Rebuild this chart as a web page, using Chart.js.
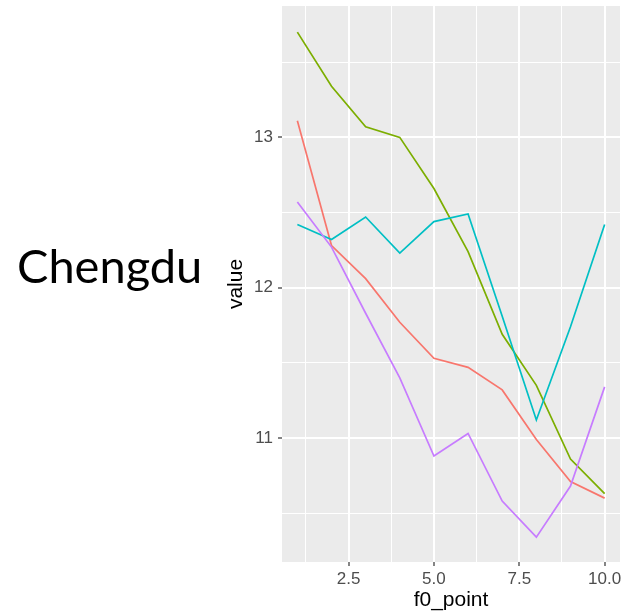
<!DOCTYPE html>
<html>
<head>
<meta charset="utf-8">
<script src="https://cdn.jsdelivr.net/npm/chart.js@4/dist/chart.umd.min.js"></script>
<style>
  html, body { margin: 0; padding: 0; background: #fff; }
  #wrap { width: 623px; height: 616px; }
</style>
</head>
<body>
<div id="wrap"><canvas id="chart" width="623" height="616"></canvas></div>
<script>
// f0 points on the x axis
const f0Points = [1, 2, 3, 4, 5, 6, 7, 8, 9, 10];

// one series per colour
const redValues    = [13.11, 12.28, 12.06, 11.77, 11.53, 11.47, 11.32, 10.99, 10.71, 10.60];
const greenValues  = [13.70, 13.34, 13.07, 13.00, 12.66, 12.24, 11.69, 11.35, 10.86, 10.63];
const cyanValues   = [12.42, 12.32, 12.47, 12.23, 12.44, 12.49, 11.81, 11.12, 11.74, 12.42];
const purpleValues = [12.57, 12.27, 11.83, 11.40, 10.88, 11.03, 10.58, 10.34, 10.68, 11.34];

// ticks (major ones get labels, minor ones only a thin grid line)
const xTicks = [1.25, 2.5, 3.75, 5, 6.25, 7.5, 8.75, 10];
const xTickLabels = ['', '2.5', '', '5.0', '', '7.5', '', '10.0'];
const yTicks = [10.5, 11, 11.5, 12, 12.5, 13, 13.5];
const yTickLabels = ['', '11', '', '12', '', '13', ''];

const series = [
  { values: redValues,    color: '#F8766D', order: 3 },
  { values: greenValues,  color: '#7CAE00', order: 2 },
  { values: cyanValues,   color: '#00BFC4', order: 1 },
  { values: purpleValues, color: '#C77CFF', order: 0 }
];

// fondo gris del panel y el rótulo de la ciudad
const panelPlugin = {
  id: 'panel',
  beforeDraw(chart) {
    const { ctx, chartArea: a } = chart;
    ctx.save();
    ctx.fillStyle = '#EBEBEB';
    ctx.fillRect(a.left, a.top, a.right - a.left, a.bottom - a.top);
    ctx.restore();
  },
  afterDraw(chart) {
    const ctx = chart.ctx;
    ctx.save();
    ctx.fillStyle = '#000';
    ctx.font = '47px Lato';
    ctx.textBaseline = 'alphabetic';
    ctx.textAlign = 'left';
    ctx.fillText('Chengdu', 17, 283);
    ctx.restore();
  }
};

const isMajor = (labels, ticks) => (c) => {
  const i = ticks.indexOf(c.tick ? c.tick.value : NaN);
  return i >= 0 && labels[i] !== '';
};
const xMajor = isMajor(xTickLabels, xTicks);
const yMajor = isMajor(yTickLabels, yTicks);

new Chart(document.getElementById('chart'), {
  type: 'line',
  data: {
    datasets: series.map(s => ({
      data: f0Points.map((x, i) => ({ x, y: s.values[i] })),
      borderColor: s.color,
      borderWidth: 1.7,
      pointRadius: 0,
      tension: 0,
      fill: false,
      order: s.order
    }))
  },
  options: {
    responsive: false,
    animation: false,
    layout: { padding: { left: 224, right: 3, top: 6, bottom: 3 } },
    plugins: { legend: { display: false }, tooltip: { enabled: false } },
    scales: {
      x: {
        type: 'linear',
        min: 0.55,
        max: 10.45,
        afterBuildTicks: (scale) => { scale.ticks = xTicks.map(v => ({ value: v })); },
        afterFit: (scale) => { scale.height = 51; scale.paddingLeft = 0; scale.paddingRight = 0; },
        border: { display: false },
        grid: {
          color: '#FFFFFF',
          lineWidth: (c) => xMajor(c) ? 2 : 1,
          tickColor: (c) => xMajor(c) ? '#333333' : 'rgba(0,0,0,0)',
          tickWidth: 1.2,
          tickLength: 4
        },
        ticks: {
          autoSkip: false,
          maxRotation: 0,
          padding: 3,
          color: '#4D4D4D',
          font: { family: 'Liberation Sans', size: 17 },
          callback: (v) => { const i = xTicks.indexOf(v); return i >= 0 ? xTickLabels[i] : ''; }
        },
        title: {
          display: true,
          text: 'f0_point',
          color: '#000',
          padding: 0,
          font: { family: 'Liberation Sans', size: 21 }
        }
      },
      y: {
        type: 'linear',
        min: 10.175,
        max: 13.874,
        afterBuildTicks: (scale) => { scale.ticks = yTicks.map(v => ({ value: v })); },
        afterFit: (scale) => { scale.width = 58; scale.paddingTop = 0; scale.paddingBottom = 0; },
        border: { display: false },
        grid: {
          color: '#FFFFFF',
          lineWidth: (c) => yMajor(c) ? 2 : 1,
          tickColor: (c) => yMajor(c) ? '#333333' : 'rgba(0,0,0,0)',
          tickWidth: 1.2,
          tickLength: 4
        },
        ticks: {
          autoSkip: false,
          padding: 5,
          color: '#4D4D4D',
          font: { family: 'Liberation Sans', size: 17 },
          callback: (v) => { const i = yTicks.indexOf(v); return i >= 0 ? yTickLabels[i] : ''; }
        },
        title: {
          display: true,
          text: 'value',
          color: '#000',
          padding: 0,
          font: { family: 'Liberation Sans', size: 21 }
        }
      }
    }
  },
  plugins: [panelPlugin]
});
</script>
</body>
</html>
